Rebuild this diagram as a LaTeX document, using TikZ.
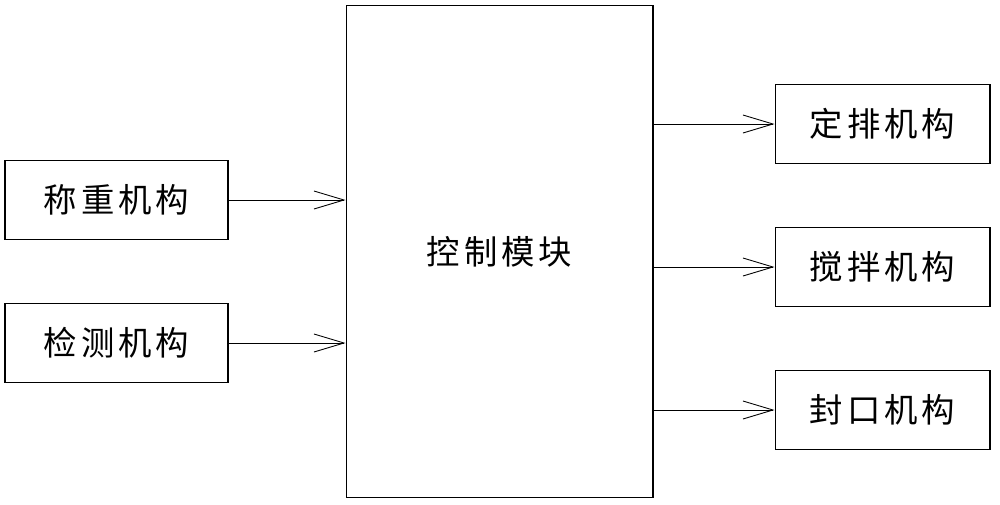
\documentclass[tikz,border=0pt]{standalone}
\usepackage{fontspec}
\setmainfont{Noto Sans CJK SC}[LetterSpace=12]
\usetikzlibrary{arrows.meta}
\tikzset{
  unit/.style={draw, line width=0.6pt, minimum width=4.46cm, minimum height=1.58cm, font=\fontsize{19}{22}\selectfont},
  link/.style={line width=0.5pt, -{Straight Barb[length=0.6cm, width=0.36cm, line width=0.5pt]}}
}
\begin{document}
\begin{tikzpicture}[x=0.02cm, y=-0.02cm]
  \useasboundingbox (0,0) rectangle (1000,504);
  % control module
  \node[unit, minimum width=6.14cm, minimum height=9.86cm] (ctrl) at (499.5,251.5) {控制模块};
  % inputs
  \node[unit] (weigh) at (116.5,200) {称重机构};
  \node[unit] (detect) at (116.5,343) {检测机构};
  % outputs
  \node[unit, minimum width=4.3cm] (dose) at (882.5,124) {定排机构};
  \node[unit, minimum width=4.3cm] (stir) at (882.5,267) {搅拌机构};
  \node[unit, minimum width=4.3cm] (seal) at (882.5,410) {封口机构};
  \draw[link] (weigh.east) -- (ctrl.west |- weigh.east);
  \draw[link] (detect.east) -- (ctrl.west |- detect.east);
  \draw[link] (ctrl.east |- dose.west) -- (dose.west);
  \draw[link] (ctrl.east |- stir.west) -- (stir.west);
  \draw[link] (ctrl.east |- seal.west) -- (seal.west);
\end{tikzpicture}
\end{document}
